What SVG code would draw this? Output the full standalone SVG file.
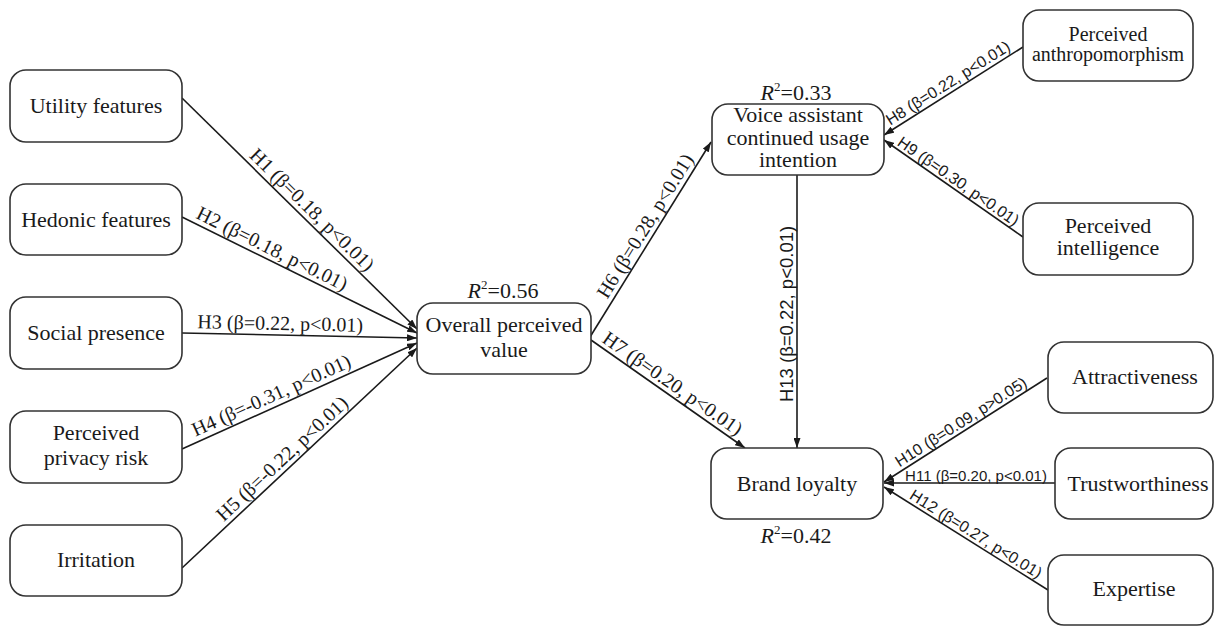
<svg xmlns="http://www.w3.org/2000/svg" width="1215" height="626" viewBox="0 0 1215 626">
<style>
.box{fill:#ffffff;stroke:#333333;stroke-width:1.6}
.nt{font-family:"Liberation Serif","Times New Roman",serif;font-size:22px;fill:#1a1a1a;text-anchor:middle}
.nt20{font-size:20px}
.r2{font-family:"Liberation Serif","Times New Roman",serif;font-size:22px;fill:#1a1a1a;text-anchor:middle}
.ln{stroke:#1a1a1a;stroke-width:1.6;fill:none;marker-end:url(#arr)}
.ls{font-family:"Liberation Serif","Times New Roman",serif;font-size:20px;fill:#1a1a1a;text-anchor:middle}
.la{font-family:"Liberation Sans",Arial,sans-serif;font-size:16px;fill:#1a1a1a;text-anchor:middle}
</style>
<defs>
<marker id="arr" viewBox="0 0 10 7" refX="10" refY="3.5" markerWidth="10" markerHeight="7" orient="auto" markerUnits="userSpaceOnUse">
<path d="M0,0 L10,3.5 L0,7 z" fill="#1a1a1a"/>
</marker>
</defs>
<rect width="1215" height="626" fill="#ffffff"/>

<g id="connectors">
<line class="ln" x1="182" y1="98" x2="417" y2="329"/>
<line class="ln" x1="182" y1="217" x2="417" y2="333"/>
<line class="ln" x1="182" y1="333" x2="417" y2="338"/>
<line class="ln" x1="182" y1="449" x2="417" y2="343"/>
<line class="ln" x1="182" y1="568" x2="417" y2="348"/>
<line class="ln" x1="590" y1="337" x2="711" y2="142"/>
<line class="ln" x1="591" y1="340" x2="745" y2="448"/>
<line class="ln" x1="1023" y1="47" x2="884" y2="135"/>
<line class="ln" x1="1023" y1="237" x2="884" y2="140"/>
<line class="ln" x1="797" y1="175" x2="797" y2="448"/>
<line class="ln" x1="1047" y1="378" x2="884" y2="482"/>
<line class="ln" x1="1055" y1="483" x2="884" y2="483"/>
<line class="ln" x1="1048" y1="590" x2="884" y2="487"/>

<text class="ls" transform="translate(304,218) rotate(44.5)" y="-5">H1 (β=0.18, p&lt;0.01)</text>
<text class="ls" transform="translate(267,259) rotate(26.3)" y="-5">H2 (β=0.18, p&lt;0.01)</text>
<text class="ls" transform="translate(280,335) rotate(1.2)" y="-5">H3 (β=0.22, p&lt;0.01)</text>
<text class="ls" transform="translate(276,406) rotate(-24.3)" y="-5">H4 (β=-0.31, p&lt;0.01)</text>
<text class="ls" transform="translate(290,467) rotate(-43.1)" y="-5">H5 (β=-0.22, p&lt;0.01)</text>
<text class="ls" transform="translate(655,232) rotate(-58.2)" y="-5">H6 (β=0.28, p&lt;0.01)</text>
<text class="ls" transform="translate(666,393) rotate(35)" y="-5">H7 (β=0.20, p&lt;0.01)</text>
<text class="la" transform="translate(953,91) rotate(-32.2)" y="-4">H8 (β=0.22, p&lt;0.01)</text>
<text class="la" transform="translate(953,189) rotate(34.7)" y="-4">H9 (β=0.30, p&lt;0.01)</text>
<text class="la" transform="translate(797,314) rotate(-90)" y="-4" style="font-size:18.5px">H13 (β=0.22, p&lt;0.01)</text>
<text class="la" transform="translate(966,430) rotate(-32.5)" y="-4">H10 (β=0.09, p&gt;0.05)</text>
<text class="la" x="976" y="481" style="font-size:15px">H11 (β=0.20, p&lt;0.01)</text>
<text class="la" transform="translate(971,542) rotate(32.1)" y="-4">H12 (β=0.27, p&lt;0.01)</text>
</g>

<g id="utility">
<rect class="box" x="10" y="70" width="172" height="72" rx="16"/>
<text class="nt" x="96" y="113">Utility features</text>
</g>
<g id="hedonic">
<rect class="box" x="10" y="184" width="172" height="71" rx="16"/>
<text class="nt" x="96" y="227">Hedonic features</text>
</g>
<g id="social">
<rect class="box" x="10" y="297" width="172" height="72" rx="16"/>
<text class="nt" x="96" y="340">Social presence</text>
</g>
<g id="privacy">
<rect class="box" x="10" y="411" width="172" height="72" rx="16"/>
<text class="nt" x="96" y="440">Perceived</text>
<text class="nt" x="96" y="465">privacy risk</text>
</g>
<g id="irritation">
<rect class="box" x="10" y="525" width="172" height="71" rx="16"/>
<text class="nt" x="96" y="567">Irritation</text>
</g>

<g id="opv">
<rect class="box" x="417" y="303" width="174" height="71" rx="16"/>
<text class="nt" x="504" y="332">Overall perceived</text>
<text class="nt" x="504" y="357">value</text>
<text class="r2" x="503" y="298"><tspan font-style="italic">R</tspan><tspan dy="-9" font-size="13">2</tspan><tspan dy="9">=0.56</tspan></text>
</g>

<g id="voice">
<rect class="box" x="712" y="104" width="172" height="71" rx="16"/>
<text class="nt" x="798" y="122">Voice assistant</text>
<text class="nt" x="798" y="145">continued usage</text>
<text class="nt" x="798" y="167">intention</text>
<text class="r2" x="796" y="100"><tspan font-style="italic">R</tspan><tspan dy="-9" font-size="13">2</tspan><tspan dy="9">=0.33</tspan></text>
</g>

<g id="anthro">
<rect class="box" x="1023" y="10" width="170" height="71" rx="16"/>
<text class="nt nt20" x="1108" y="41">Perceived</text>
<text class="nt nt20" x="1108" y="61">anthropomorphism</text>
</g>
<g id="intelligence">
<rect class="box" x="1023" y="203" width="170" height="72" rx="16"/>
<text class="nt" x="1108" y="233">Perceived</text>
<text class="nt" x="1108" y="255">intelligence</text>
</g>

<g id="brand">
<rect class="box" x="711" y="448" width="172" height="71" rx="16"/>
<text class="nt" x="797" y="491">Brand loyalty</text>
<text class="r2" x="796" y="543"><tspan font-style="italic">R</tspan><tspan dy="-9" font-size="13">2</tspan><tspan dy="9">=0.42</tspan></text>
</g>

<g id="attractiveness">
<rect class="box" x="1048" y="342" width="165" height="71" rx="16"/>
<text class="nt" x="1135" y="384">Attractiveness</text>
</g>
<g id="trust">
<rect class="box" x="1055" y="448" width="158" height="71" rx="16"/>
<text class="nt" x="1138" y="491">Trustworthiness</text>
</g>
<g id="expertise">
<rect class="box" x="1048" y="555" width="165" height="70" rx="16"/>
<text class="nt" x="1134" y="596">Expertise</text>
</g>
</svg>
